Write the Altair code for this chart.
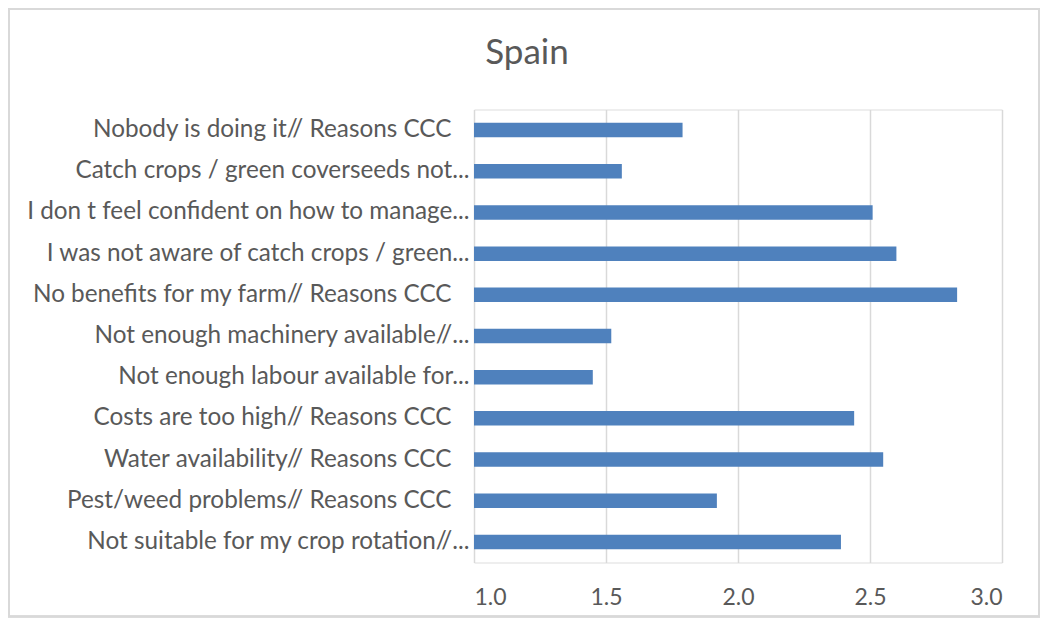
import altair as alt
import pandas as pd

categories = [
    "Nobody is doing it// Reasons CCC",
    "Catch crops / green coverseeds not...",
    "I don t feel confident on how to manage...",
    "I was not aware of catch crops / green...",
    "No benefits for my farm// Reasons CCC",
    "Not enough machinery available//...",
    "Not enough labour available for...",
    "Costs are too high// Reasons CCC",
    "Water availability// Reasons CCC",
    "Pest/weed problems// Reasons CCC",
    "Not suitable for my crop rotation//...",
]
values = [1.79, 1.56, 2.51, 2.60, 2.83, 1.52, 1.45, 2.44, 2.55, 1.92, 2.39]
x_ticks = [1.0, 1.5, 2.0, 2.5, 3.0]

df = pd.DataFrame({"reason": categories, "score": values})

FONT = "Lato"
TXT = "#595959"

bars = alt.Chart(df).mark_bar(color="#4f81bd", size=14.5).encode(
    y=alt.Y(
        "reason:N",
        sort=categories,
        title=None,
        scale=alt.Scale(paddingInner=0.64, paddingOuter=0.32),
        axis=alt.Axis(
            ticks=False,
            domain=False,
            labelPadding=alt.ExprRef("indexof(datum.label, '...') < 0 ? 23 : 5"),
            labelFont=FONT,
            labelFontSize=24.3,
            labelColor=TXT,
            labelLimit=600,
        ),
    ),
    x=alt.X(
        "score:Q",
        title=None,
        scale=alt.Scale(domain=[1.0, 3.0], nice=False, zero=False),
        axis=alt.Axis(
            values=x_ticks,
            format=".1f",
            ticks=False,
            domain=False,
            grid=True,
            gridColor="#d9d9d9",
            gridWidth=1.5,
            labelPadding=24,
            labelFont=FONT,
            labelFontSize=23,
            labelColor=TXT,
        ),
    ),
    x2=alt.datum(1.0),
)

border = alt.Chart(df).mark_rect(
    fill=None, stroke="#d9d9d9", strokeWidth=1.5
).encode(
    x=alt.value(-465),
    x2=alt.value(565),
    y=alt.value(-100.5),
    y2=alt.value(507),
)

chart = alt.layer(border, bars).properties(
    width=528,
    height=453,
    padding={"left": 466, "top": 101.5, "right": 38, "bottom": 55},
    autosize=alt.AutoSizeParams(type="none"),
    title=alt.TitleParams(
        "Spain",
        font=FONT,
        fontSize=35,
        fontWeight="normal",
        color=TXT,
        anchor="middle",
        baseline="alphabetic",
        dx=-211,
        dy=91,
        offset=0,
    ),
).configure_view(stroke=None).configure(background="white")

chart.save("out.html", embed_options={"renderer": "svg", "actions": False})
